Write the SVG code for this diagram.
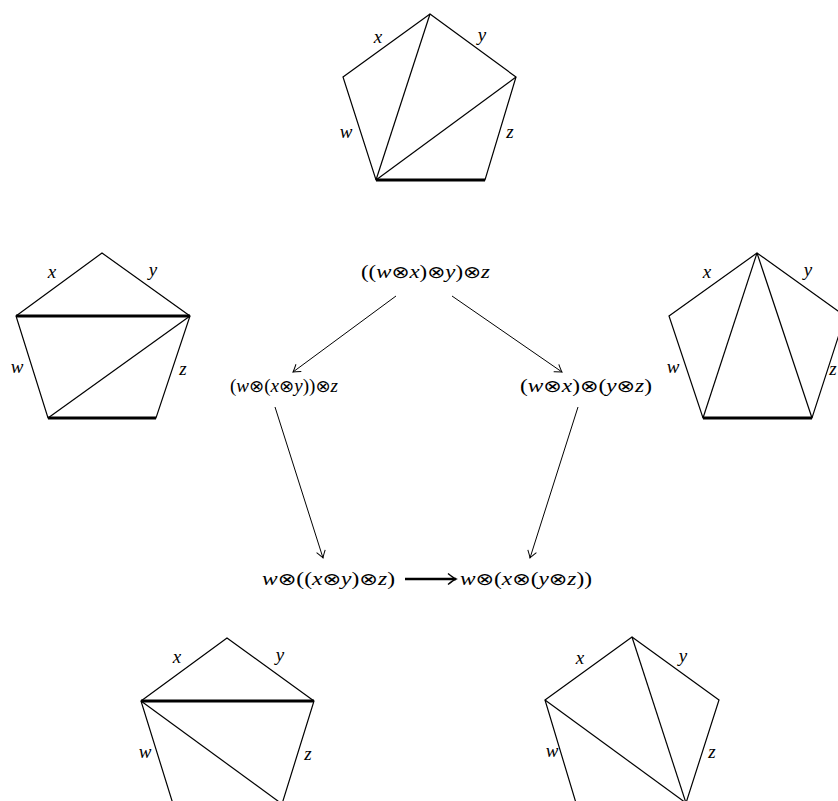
<svg xmlns="http://www.w3.org/2000/svg" width="838" height="801" viewBox="0 0 838 801">
<style>
.edge{fill:none;stroke:#000;stroke-width:1.2;stroke-linejoin:miter}
.bold{stroke:#000;stroke-width:3.2;fill:none}
.lbl{font-family:"Liberation Serif","DejaVu Serif",serif;font-style:italic;font-size:19px;fill:#000;text-anchor:middle}
.math{font-family:"Liberation Serif","DejaVu Serif",serif;font-size:18px;fill:#000}
.v{font-style:italic}
.o{font-family:"DejaVu Sans",sans-serif;font-size:17px;font-weight:normal}
.arr{fill:none;stroke:#000;stroke-width:1}
</style>
<defs>
<marker id="hd" markerUnits="userSpaceOnUse" viewBox="-10 -6 12 12" markerWidth="12" markerHeight="12" refX="0" refY="0" orient="auto">
<path d="M -7 -4.5 Q -2 -1 0 0 Q -2 1 -7 4.5" fill="none" stroke="#000" stroke-width="1"/>
</marker>
<marker id="hdb" markerUnits="userSpaceOnUse" viewBox="-12 -7 14 14" markerWidth="14" markerHeight="14" refX="0" refY="0" orient="auto">
<path d="M -8 -5.5 Q -2.5 -1 0 0 Q -2.5 1 -8 5.5" fill="none" stroke="#000" stroke-width="1.4"/>
</marker>
</defs>

<g id="pent-top">
<polygon class="edge" points="430,14 516,77 485,180 376,180 343,77"/>
<line class="edge" x1="430" y1="14" x2="376" y2="180"/>
<line class="edge" x1="516" y1="77" x2="376" y2="180"/>
<line class="bold" x1="376" y1="180" x2="485" y2="180"/>
<text class="lbl" x="378" y="43">x</text>
<text class="lbl" x="482" y="41">y</text>
<text class="lbl" x="346" y="138">w</text>
<text class="lbl" x="510" y="138">z</text>
</g>

<g id="pent-left">
<polygon class="edge" points="102,253 190,316 156,418 48,418 16,316"/>
<line class="edge" x1="190" y1="316" x2="48" y2="418"/>
<line class="bold" x1="16" y1="316" x2="190" y2="316"/>
<line class="bold" x1="48" y1="418" x2="156" y2="418"/>
<text class="lbl" x="52" y="278">x</text>
<text class="lbl" x="153" y="276">y</text>
<text class="lbl" x="17" y="373">w</text>
<text class="lbl" x="183" y="375">z</text>
</g>

<g id="pent-right">
<polygon class="edge" points="757,253 845,316 812,418 703,418 669,316"/>
<line class="edge" x1="757" y1="253" x2="703" y2="418"/>
<line class="edge" x1="757" y1="253" x2="812" y2="418"/>
<line class="bold" x1="703" y1="418" x2="812" y2="418"/>
<text class="lbl" x="707" y="278">x</text>
<text class="lbl" x="808" y="276">y</text>
<text class="lbl" x="673" y="373">w</text>
<text class="lbl" x="833" y="375">z</text>
</g>

<g id="pent-bottom-left">
<polygon class="edge" points="227,638 314,701 282,804 173,804 141,701"/>
<line class="edge" x1="141" y1="701" x2="282" y2="804"/>
<line class="bold" x1="141" y1="701" x2="314" y2="701"/>
<text class="lbl" x="177" y="663">x</text>
<text class="lbl" x="280" y="661">y</text>
<text class="lbl" x="145" y="758">w</text>
<text class="lbl" x="308" y="760">z</text>
</g>

<g id="pent-bottom-right">
<polygon class="edge" points="632,637 719,700 686,803 576,803 545,700"/>
<line class="edge" x1="545" y1="700" x2="686" y2="803"/>
<line class="edge" x1="632" y1="637" x2="686" y2="803"/>
<text class="lbl" x="580" y="664">x</text>
<text class="lbl" x="683" y="662">y</text>
<text class="lbl" x="552" y="757">w</text>
<text class="lbl" x="712" y="758">z</text>
</g>

<g id="n-top">
<text class="math" x="361" y="278" textLength="129" lengthAdjust="spacingAndGlyphs">((<tspan class="v">w</tspan><tspan class="o">⊗</tspan><tspan class="v">x</tspan>)<tspan class="o">⊗</tspan><tspan class="v">y</tspan>)<tspan class="o">⊗</tspan><tspan class="v">z</tspan></text>
</g>
<g id="n-left">
<text class="math" x="230" y="392" textLength="108" lengthAdjust="spacingAndGlyphs">(<tspan class="v">w</tspan><tspan class="o">⊗</tspan>(<tspan class="v">x</tspan><tspan class="o">⊗</tspan><tspan class="v">y</tspan>))<tspan class="o">⊗</tspan><tspan class="v">z</tspan></text>
</g>
<g id="n-right">
<text class="math" x="520" y="392" textLength="132" lengthAdjust="spacingAndGlyphs">(<tspan class="v">w</tspan><tspan class="o">⊗</tspan><tspan class="v">x</tspan>)<tspan class="o">⊗</tspan>(<tspan class="v">y</tspan><tspan class="o">⊗</tspan><tspan class="v">z</tspan>)</text>
</g>
<g id="n-bl">
<text class="math" x="262" y="585" textLength="133" lengthAdjust="spacingAndGlyphs"><tspan class="v">w</tspan><tspan class="o">⊗</tspan>((<tspan class="v">x</tspan><tspan class="o">⊗</tspan><tspan class="v">y</tspan>)<tspan class="o">⊗</tspan><tspan class="v">z</tspan>)</text>
</g>
<g id="n-br">
<text class="math" x="460" y="585" textLength="132" lengthAdjust="spacingAndGlyphs"><tspan class="v">w</tspan><tspan class="o">⊗</tspan>(<tspan class="v">x</tspan><tspan class="o">⊗</tspan>(<tspan class="v">y</tspan><tspan class="o">⊗</tspan><tspan class="v">z</tspan>))</text>
</g>

<g id="connectors">
<line class="arr" x1="396" y1="296" x2="293" y2="372" marker-end="url(#hd)"/>
<line class="arr" x1="452" y1="296" x2="562" y2="372" marker-end="url(#hd)"/>
<line class="arr" x1="275" y1="407" x2="323" y2="558" marker-end="url(#hd)"/>
<line class="arr" x1="578" y1="407" x2="530" y2="558" marker-end="url(#hd)"/>
<line x1="405" y1="579" x2="456" y2="579" stroke="#000" stroke-width="2.4" marker-end="url(#hdb)"/>
</g>
</svg>
